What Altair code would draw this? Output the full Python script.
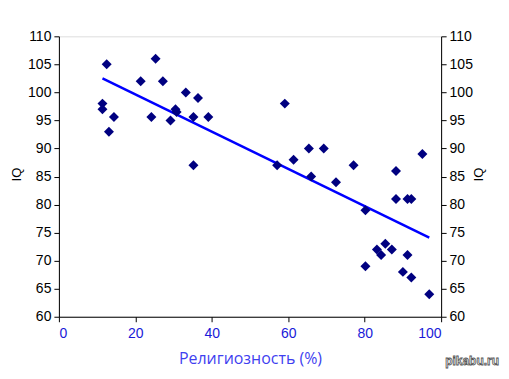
import altair as alt
import pandas as pd

religiosity = [12.5, 25.3, 21.4, 27.2, 11.4, 11.4, 14.4, 13.1, 24.2, 33.2, 36.4, 30.5,
               29.2, 35.2, 39.1, 35.2, 59.1, 57.1, 61.4, 65.4, 69.3, 66.0, 72.5, 77.1,
               95.1, 88.2, 88.2, 91.2, 92.2, 80.2, 80.2, 83.2, 85.4, 84.3, 87.1, 91.2,
               90.0, 92.2, 96.9, 30.8]
iq = [105, 106, 102, 102, 98, 97, 95.6, 93, 95.6, 100, 99, 97,
      95, 95.6, 95.6, 87, 98, 87, 88, 90, 90, 85, 84, 87,
      89, 86, 81, 81, 81, 79, 69, 72, 73, 71, 72, 71,
      68, 67, 64, 96.5]

x_ticks = [0, 20, 40, 60, 80, 100]
y_ticks = [60, 65, 70, 75, 80, 85, 90, 95, 100, 105, 110]

df = pd.DataFrame({"rel": religiosity, "iq": iq})

xs = alt.Scale(domain=[0, 100], nice=False, zero=False)
ys = alt.Scale(domain=[60, 110], nice=False, zero=False)

x_axis = alt.Axis(values=x_ticks, title="Религиозность (%)", grid=False,
                  labelColor="#1a1ad8", labelFontSize=14, labelFont="Liberation Sans",
                  titleColor="#3f3ff0", titleFontSize=16, titleFont="Open Sans",
                  titleFontWeight="normal", titlePadding=10,
                  domainColor="black", tickColor="black", tickSize=5, labelPadding=5)

y_left = alt.Axis(values=y_ticks, title="IQ", grid=False, orient="left",
                  labelColor="black", labelFontSize=14, labelFont="Liberation Sans",
                  titleColor="black", titleFontSize=13, titleFont="Liberation Sans",
                  titleFontWeight="normal", titleAngle=270, titleBaseline="middle",
                  titleAlign="center", titleX=-42, titleY=138,
                  domainColor="black", tickColor="black", tickSize=5, labelPadding=3)

y_right = alt.Axis(values=y_ticks, title="IQ", grid=False, orient="right",
                   labelColor="black", labelFontSize=14, labelFont="Liberation Sans",
                   titleColor="black", titleFontSize=13, titleFont="Liberation Sans",
                   titleFontWeight="normal", titleAngle=270, titleBaseline="middle",
                   titleAlign="center", titleX=37, titleY=138,
                   domainColor="black", tickColor="black", tickSize=5, labelPadding=3)

base = alt.Chart(df)

trend = base.transform_regression("rel", "iq").mark_line(
    color="#0000ff", strokeWidth=2.5
).encode(
    x=alt.X("rel:Q", scale=xs, axis=x_axis),
    y=alt.Y("iq:Q", scale=ys, axis=y_left),
)

points = base.mark_point(shape="diamond", filled=True, color="#000080",
                         size=100, opacity=1).encode(
    x=alt.X("rel:Q", scale=xs),
    y=alt.Y("iq:Q", scale=ys, axis=y_right),
)

wm = alt.Chart(pd.DataFrame({"t": ["pikabu.ru"]})).mark_text(
    font="Liberation Sans", fontSize=12, fontWeight="bold", color="white",
    stroke="#555555", strokeWidth=0.8, align="right", baseline="bottom"
).encode(x=alt.value(441), y=alt.value(332), text="t:N")

chart = alt.layer(trend, points, wm).resolve_scale(y="independent").properties(
    width=383, height=281,
    autosize=alt.AutoSizeParams(type="none"),
    padding={"left": 51, "top": 28, "right": 60, "bottom": 62},
).configure_view(stroke="black", strokeWidth=1).configure(background="white")

chart.save("out.html", embed_options={"renderer": "svg", "actions": False})
